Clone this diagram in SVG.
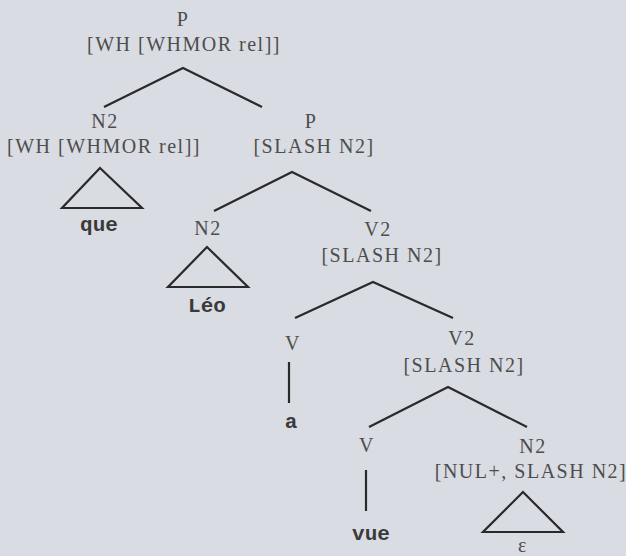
<svg xmlns="http://www.w3.org/2000/svg" width="626" height="556" viewBox="0 0 626 556">
<style>
.lbl{font-family:"Liberation Serif","Times New Roman",serif;font-size:20px;letter-spacing:1.5px;fill:#4d4d4d;text-anchor:middle}
.word{font-family:"Liberation Mono","Courier New",monospace;font-size:21px;font-weight:bold;fill:#3a3a3a;text-anchor:middle}
.edge{fill:none;stroke:#2a2a2a;stroke-width:2.2;stroke-linejoin:miter}
</style>
<rect width="626" height="556" fill="#d9dce2"/>
<g id="edges">
<polyline class="edge" points="104,107 183,68 262,107"/>
<polyline class="edge" points="214,211 292,172 371,211"/>
<polyline class="edge" points="295,318 373,282 453,318"/>
<polyline class="edge" points="369,427 448,387 527,427"/>
<line class="edge" x1="289" y1="362" x2="289" y2="403"/>
<line class="edge" x1="366" y1="470" x2="366" y2="511"/>
<polygon class="edge" points="100,168 62,208 142,208"/>
<polygon class="edge" points="207,247 168,287 248,287"/>
<polygon class="edge" points="523,492 483,532 563,532"/>
</g>
<g id="n-p-top">
<text class="lbl" x="183" y="26">P</text>
<text class="lbl" x="184" y="51">[WH [WHMOR rel]]</text>
</g>
<g id="n-n2-wh">
<text class="lbl" x="105" y="128">N2</text>
<text class="lbl" x="104" y="153">[WH [WHMOR rel]]</text>
</g>
<g id="n-que"><text class="word" x="99" y="231">que</text></g>
<g id="n-p-slash">
<text class="lbl" x="311" y="128">P</text>
<text class="lbl" x="314" y="153">[SLASH N2]</text>
</g>
<g id="n-n2-leo"><text class="lbl" x="208" y="235">N2</text></g>
<g id="n-leo"><text class="word" x="207" y="312">Léo</text></g>
<g id="n-v2-a">
<text class="lbl" x="378" y="236">V2</text>
<text class="lbl" x="382" y="262">[SLASH N2]</text>
</g>
<g id="n-v-a"><text class="lbl" x="293" y="350">V</text></g>
<g id="n-a"><text class="word" x="291" y="428">a</text></g>
<g id="n-v2-b">
<text class="lbl" x="462" y="345">V2</text>
<text class="lbl" x="464" y="372">[SLASH N2]</text>
</g>
<g id="n-v-b"><text class="lbl" x="367" y="452">V</text></g>
<g id="n-vue"><text class="word" x="371" y="540">vue</text></g>
<g id="n-n2-nul">
<text class="lbl" x="533" y="453">N2</text>
<text class="lbl" x="531" y="478">[NUL+, SLASH N2]</text>
</g>
<g id="n-eps"><text class="lbl" x="523" y="552">ε</text></g>
</svg>
